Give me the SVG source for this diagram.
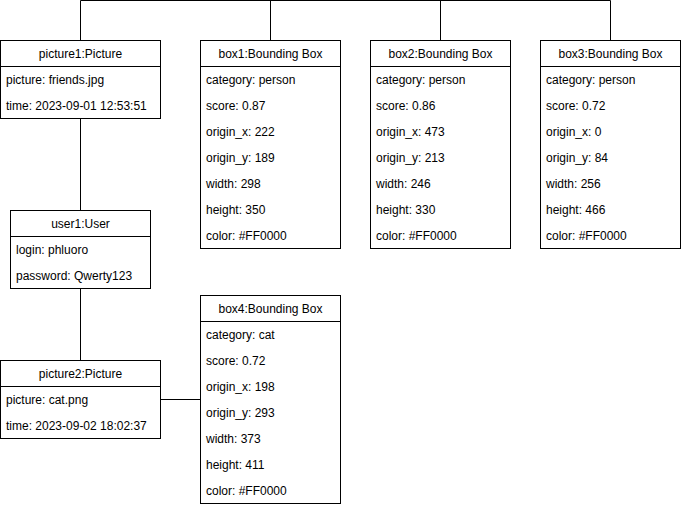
<svg xmlns="http://www.w3.org/2000/svg" width="681" height="507" viewBox="0 0 681 507">
  <style>
    .box { fill: #ffffff; stroke: #000000; stroke-width: 1; }
    .sep { stroke: #000000; stroke-width: 1; }
    .edge { fill: none; stroke: #000000; stroke-width: 1; }
    .title { font-family: "Liberation Sans", Arial, sans-serif; font-size: 12px; fill: #000000; text-anchor: middle; }
    .attr { font-family: "Liberation Sans", Arial, sans-serif; font-size: 12px; fill: #000000; }
  </style>
  <rect width="681" height="507" fill="#ffffff"/>

  <!-- associations -->
  <g id="connectors">
    <path class="edge" d="M80.5 40.5 V0.5 H610.5 V40.5"/>
    <path class="edge" d="M270.5 0.5 V40.5"/>
    <path class="edge" d="M440.5 0.5 V40.5"/>
    <path class="edge" d="M80.5 118.5 V210.5"/>
    <path class="edge" d="M80.5 288.5 V360.5"/>
    <path class="edge" d="M160.5 399.5 H200.5"/>
  </g>

  <g id="picture1">
    <rect class="box" x="0.5" y="40.5" width="160" height="78"/>
    <line class="sep" x1="0.5" y1="66.5" x2="160.5" y2="66.5"/>
    <text class="title" x="80.5" y="58">picture1:Picture</text>
    <text class="attr" x="6" y="84">picture: friends.jpg</text>
    <text class="attr" x="6" y="110">time: 2023-09-01 12:53:51</text>
  </g>

  <g id="box1">
    <rect class="box" x="200.5" y="40.5" width="140" height="208"/>
    <line class="sep" x1="200.5" y1="66.5" x2="340.5" y2="66.5"/>
    <text class="title" x="270.5" y="58">box1:Bounding Box</text>
    <text class="attr" x="206" y="84">category: person</text>
    <text class="attr" x="206" y="110">score: 0.87</text>
    <text class="attr" x="206" y="136">origin_x: 222</text>
    <text class="attr" x="206" y="162">origin_y: 189</text>
    <text class="attr" x="206" y="188">width: 298</text>
    <text class="attr" x="206" y="214">height: 350</text>
    <text class="attr" x="206" y="240">color: #FF0000</text>
  </g>

  <g id="box2">
    <rect class="box" x="370.5" y="40.5" width="140" height="208"/>
    <line class="sep" x1="370.5" y1="66.5" x2="510.5" y2="66.5"/>
    <text class="title" x="440.5" y="58">box2:Bounding Box</text>
    <text class="attr" x="376" y="84">category: person</text>
    <text class="attr" x="376" y="110">score: 0.86</text>
    <text class="attr" x="376" y="136">origin_x: 473</text>
    <text class="attr" x="376" y="162">origin_y: 213</text>
    <text class="attr" x="376" y="188">width: 246</text>
    <text class="attr" x="376" y="214">height: 330</text>
    <text class="attr" x="376" y="240">color: #FF0000</text>
  </g>

  <g id="box3">
    <rect class="box" x="540.5" y="40.5" width="140" height="208"/>
    <line class="sep" x1="540.5" y1="66.5" x2="680.5" y2="66.5"/>
    <text class="title" x="610.5" y="58">box3:Bounding Box</text>
    <text class="attr" x="546" y="84">category: person</text>
    <text class="attr" x="546" y="110">score: 0.72</text>
    <text class="attr" x="546" y="136">origin_x: 0</text>
    <text class="attr" x="546" y="162">origin_y: 84</text>
    <text class="attr" x="546" y="188">width: 256</text>
    <text class="attr" x="546" y="214">height: 466</text>
    <text class="attr" x="546" y="240">color: #FF0000</text>
  </g>

  <g id="user1">
    <rect class="box" x="10.5" y="210.5" width="140" height="78"/>
    <line class="sep" x1="10.5" y1="236.5" x2="150.5" y2="236.5"/>
    <text class="title" x="80.5" y="228">user1:User</text>
    <text class="attr" x="16" y="254">login: phluoro</text>
    <text class="attr" x="16" y="280">password: Qwerty123</text>
  </g>

  <g id="picture2">
    <rect class="box" x="0.5" y="360.5" width="160" height="78"/>
    <line class="sep" x1="0.5" y1="386.5" x2="160.5" y2="386.5"/>
    <text class="title" x="80.5" y="378">picture2:Picture</text>
    <text class="attr" x="6" y="404">picture: cat.png</text>
    <text class="attr" x="6" y="430">time: 2023-09-02 18:02:37</text>
  </g>

  <g id="box4">
    <rect class="box" x="200.5" y="295.5" width="140" height="208"/>
    <line class="sep" x1="200.5" y1="321.5" x2="340.5" y2="321.5"/>
    <text class="title" x="270.5" y="313">box4:Bounding Box</text>
    <text class="attr" x="206" y="339">category: cat</text>
    <text class="attr" x="206" y="365">score: 0.72</text>
    <text class="attr" x="206" y="391">origin_x: 198</text>
    <text class="attr" x="206" y="417">origin_y: 293</text>
    <text class="attr" x="206" y="443">width: 373</text>
    <text class="attr" x="206" y="469">height: 411</text>
    <text class="attr" x="206" y="495">color: #FF0000</text>
  </g>
</svg>
